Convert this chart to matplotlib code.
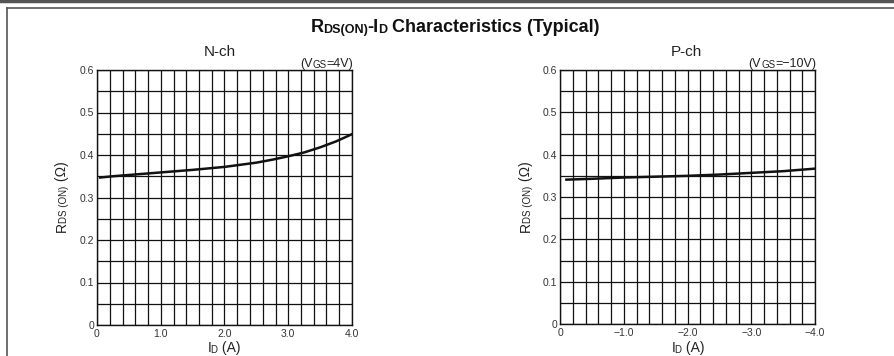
import numpy as np
import matplotlib
matplotlib.use("Agg")
import matplotlib.pyplot as plt
from matplotlib.lines import Line2D

plt.rcParams['font.family'] = ['Liberation Sans', 'DejaVu Sans']

# Data
n_id = [0.05, 0.25, 0.5, 0.75, 1.0, 1.5, 2.0, 2.5, 2.75, 3.0, 3.25, 3.5, 3.75, 4.0]
n_rds = [0.347, 0.350, 0.353, 0.356, 0.359, 0.365, 0.372, 0.382, 0.389, 0.397, 0.406, 0.418, 0.432, 0.449]

p_id = [-0.1, -0.5, -1.0, -1.5, -2.0, -2.5, -3.0, -3.5, -4.0]
p_rds = [0.341, 0.343, 0.346, 0.348, 0.350, 0.353, 0.357, 0.361, 0.367]

y_ticks = [0, 0.1, 0.2, 0.3, 0.4, 0.5, 0.6]
y_labels = ["0", "0.1", "0.2", "0.3", "0.4", "0.5", "0.6"]
n_xticks = [0, 1, 2, 3, 4]
n_xlabels = ["0", "1.0", "2.0", "3.0", "4.0"]
p_xticks = [0, -1, -2, -3, -4]
p_xlabels = ["0", "\u22121.0", "\u22122.0", "\u22123.0", "\u22124.0"]

W, H = 894, 356
fig = plt.figure(figsize=(W / 100, H / 100), dpi=100)


def px(x, y):
    # pixel position (from top-left) -> figure fraction
    return x / W, 1 - y / H


def rich(x, y, parts, rotation=0, color='#111', bold=False):
    '''Draw text made of pieces (text, size, gap in points) one after another.'''
    fw = 'bold' if bold else 'normal'
    fx, fy = px(x, y)
    arts = []
    for i, part in enumerate(parts):
        s, size = part[0], part[1]
        gap = part[2] if len(part) > 2 else 0
        if i == 0:
            if rotation:
                t = fig.text(fx, fy, s, fontsize=size, rotation=90,
                             ha='right', va='bottom', color=color,
                             fontweight=fw)
            else:
                t = fig.text(fx, fy, s, fontsize=size, ha='left',
                             va='baseline', color=color, fontweight=fw)
        else:
            if rotation:
                t = fig.add_artist(plt.Annotation(
                    s, xy=(1, 1), xycoords=arts[-1], xytext=(0, gap),
                    textcoords='offset points', rotation=90,
                    ha='right', va='bottom', fontsize=size, color=color,
                    fontweight=fw))
            else:
                t = fig.add_artist(plt.Annotation(
                    s, xy=(1, 0), xycoords=arts[-1], xytext=(gap, 0),
                    textcoords='offset points', ha='left',
                    va='bottom', fontsize=size, color=color, fontweight=fw))
        arts.append(t)
    return arts


def place_rich(arts, cx=None, cy=None, right=None):
    fig.canvas.draw()
    r = fig.canvas.get_renderer()
    b0 = arts[0].get_window_extent(r)
    b1 = arts[-1].get_window_extent(r)
    x, y = arts[0].get_position()
    if cx is not None:
        x += (cx - (b0.x0 + b1.x1) / 2) / W
    if right is not None:
        x += (right - b1.x1) / W
    if cy is not None:
        y += ((H - cy) - (b0.y0 + b1.y1) / 2) / H
    arts[0].set_position((x, y))


def grid_axes(rect, xlim, xticks, xlabels):
    ax = fig.add_axes(rect)
    ax.set_xlim(*xlim)
    ax.set_ylim(0, 0.6)
    ax.set_xticks(xticks)
    ax.set_xticklabels(xlabels)
    ax.set_xticks(np.linspace(xlim[0], xlim[1], 21), minor=True)
    ax.set_yticks(y_ticks)
    ax.set_yticklabels(y_labels)
    ax.set_yticks(np.linspace(0, 0.6, 13), minor=True)
    ax.grid(True, which='both', color='#111', lw=0.9)
    ax.tick_params(which='both', length=0, labelsize=7.5, labelcolor='#333')
    ax.tick_params(axis='x', pad=3)
    ax.tick_params(axis='y', pad=2)
    for sp in ax.spines.values():
        sp.set_color('#111')
        sp.set_linewidth(1.0)
    return ax


ax1 = grid_axes([97 / W, 31 / H, 255 / W, 255 / H], (0, 4), n_xticks, n_xlabels)
ax1.plot(n_id, n_rds, color='#111', lw=1.8)

ax2 = grid_axes([560 / W, 32 / H, 255 / W, 254 / H], (0, -4), p_xticks, p_xlabels)
ax2.plot(p_id, p_rds, color='#111', lw=1.8)

# frame lines of the datasheet page
fig.add_artist(Line2D([0, 1], [1 - 1 / H] * 2, lw=2.5, color='#555',
                      transform=fig.transFigure))
fig.add_artist(Line2D([6.5 / W, 1], [1 - 7.5 / H] * 2, lw=1.2, color='#555',
                      transform=fig.transFigure))
fig.add_artist(Line2D([6.5 / W] * 2, [1 - 7.5 / H, 0], lw=1.2, color='#555',
                      transform=fig.transFigure))

# titles and labels
title = rich(306, 32, [("R", 13), ("DS(ON)", 9, -0.2), ("-I", 13, -0.2),
                       ("D", 9, -0.5), (" Characteristics (Typical)", 13)],
             bold=True)
fig.text(*px(220, 56), "N-ch", fontsize=11, ha='center', va='baseline', color='#222')
fig.text(*px(686, 56), "P-ch", fontsize=11, ha='center', va='baseline', color='#222')
vn = rich(295, 67, [("(V", 9), ("GS", 7, 0), ("=4V)", 9, -0.2)], color='#222')
vp = rich(746, 67, [("(V", 9), ("GS", 7, 0), ("=\u221210V)", 9, -0.2)], color='#222')

xl1 = rich(207, 352, [("I", 10), ("D", 7, -0.9), (" (A)", 10)], color='#222')
xl2 = rich(672, 352, [("I", 10), ("D", 7, -0.9), (" (A)", 10)], color='#222')
yl1 = rich(69, 230, [("R", 10), ("DS (ON)", 7, -0.3), (" (\u03a9)", 10)], rotation=90, color='#222')
yl2 = rich(533, 230, [("R", 10), ("DS (ON)", 7, -0.3), (" (\u03a9)", 10)], rotation=90, color='#222')

place_rich(title, cx=455)
place_rich(vn, right=353)
place_rich(vp, right=816)
place_rich(xl1, cx=224)
place_rich(xl2, cx=688)
place_rich(yl1, cy=197)
place_rich(yl2, cy=197)

fig.savefig("out.png", dpi=100)
